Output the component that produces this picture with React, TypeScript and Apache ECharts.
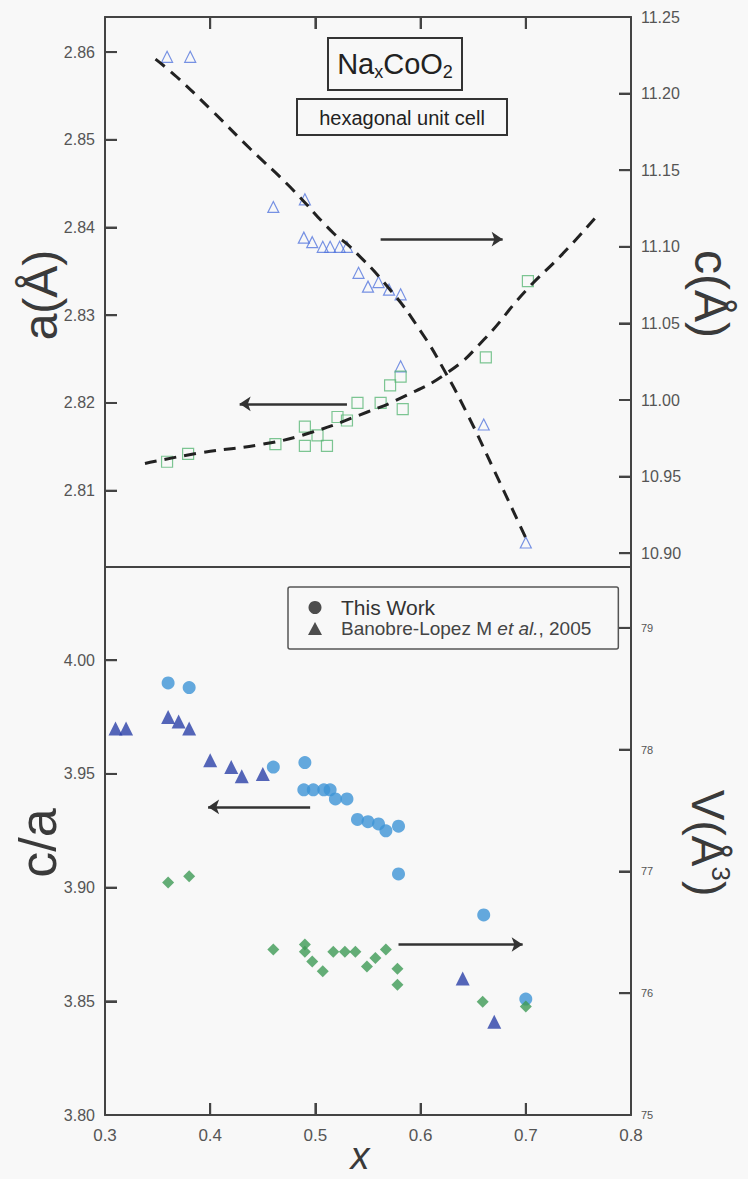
import React, { useEffect, useRef } from "react";
import * as echarts from "echarts";

// ---- Top panel: lattice parameters ----
// c (right axis, open triangles)
const cX = [0.359, 0.381, 0.46, 0.49, 0.489, 0.497, 0.507, 0.514, 0.523, 0.53, 0.541, 0.55, 0.56, 0.57, 0.581, 0.581, 0.66, 0.70];
const cY = [11.224, 11.224, 11.126, 11.131, 11.106, 11.103, 11.1, 11.1, 11.1, 11.1, 11.083, 11.074, 11.077, 11.072, 11.069, 11.022, 10.984, 10.907];
// a (left axis, open squares)
const aX = [0.359, 0.379, 0.462, 0.49, 0.49, 0.502, 0.511, 0.521, 0.53, 0.54, 0.562, 0.571, 0.581, 0.583, 0.662, 0.702];
const aY = [2.8133, 2.8142, 2.8153, 2.8173, 2.8151, 2.8163, 2.8151, 2.8184, 2.818, 2.82, 2.82, 2.822, 2.823, 2.8193, 2.8252, 2.8339];
// dashed guide curves
const aFitX = [0.338, 0.39, 0.45, 0.495, 0.55, 0.58, 0.626, 0.66, 0.7, 0.735, 0.769];
const aFitY = [2.8131, 2.8143, 2.8153, 2.8166, 2.819, 2.8205, 2.8235, 2.8272, 2.8328, 2.837, 2.8415];
const cFitX = [0.348, 0.368, 0.4, 0.438, 0.476, 0.517, 0.533, 0.571, 0.6, 0.622, 0.645, 0.67, 0.702];
const cFitY = [11.2225, 11.211, 11.19, 11.164, 11.139, 11.109, 11.1, 11.072, 11.045, 11.02, 10.99, 10.954, 10.907];

// ---- Bottom panel ----
const thisX = [0.36, 0.38, 0.46, 0.49, 0.489, 0.498, 0.508, 0.514, 0.519, 0.53, 0.54, 0.55, 0.56, 0.567, 0.579, 0.579, 0.66, 0.70];
const thisY = [3.99, 3.988, 3.953, 3.955, 3.943, 3.943, 3.943, 3.943, 3.939, 3.939, 3.93, 3.929, 3.928, 3.925, 3.927, 3.906, 3.888, 3.851];
const banX = [0.31, 0.32, 0.36, 0.37, 0.38, 0.4, 0.42, 0.43, 0.45, 0.64, 0.67];
const banY = [3.97, 3.97, 3.975, 3.973, 3.97, 3.956, 3.953, 3.949, 3.95, 3.86, 3.841];
const volX = [0.36, 0.38, 0.46, 0.49, 0.49, 0.497, 0.507, 0.517, 0.528, 0.538, 0.549, 0.557, 0.567, 0.578, 0.578, 0.659, 0.70];
const volY = [76.91, 76.96, 76.36, 76.4, 76.34, 76.26, 76.18, 76.34, 76.34, 76.34, 76.22, 76.29, 76.36, 76.2, 76.07, 75.93, 75.89];

// axis ranges
const X_MIN = 0.3, X_MAX = 0.8;
const A_MIN = 2.8013, A_MAX = 2.864;
const C_MIN = 10.891, C_MAX = 11.25;
const R_MIN = 3.8, R_MAX = 4.041;
const V_MIN = 75, V_MAX = 79.5;

// tick values
const xTicks = [0.3, 0.4, 0.5, 0.6, 0.7, 0.8];
const xInnerTicks = [0.4, 0.5, 0.6, 0.7];
const aTicks = [2.81, 2.82, 2.83, 2.84, 2.85, 2.86];
const cTicks = [10.9, 10.95, 11.0, 11.05, 11.1, 11.15, 11.2, 11.25];
const cInnerTicks = [10.9, 10.95, 11.0, 11.05, 11.1, 11.15, 11.2];
const ratioTicks = [3.8, 3.85, 3.9, 3.95, 4.0];
const ratioInnerTicks = [3.85, 3.9, 3.95, 4.0];
const vTicks = [75, 76, 77, 78, 79];
const vInnerTicks = [76, 77, 78, 79];

// arrows (data coordinates)
const arrowTopC = [[0.562, 11.105], [0.678, 11.105]];
const arrowTopA = [[0.53, 2.8199], [0.428, 2.8199]];
const arrowBotR = [[0.495, 3.9355], [0.398, 3.9355]];
const arrowBotV = [[0.579, 76.4], [0.697, 76.4]];

const BAN = "Banobre-Lopez M et al., 2005";
const FONT = '"Liberation Sans", Arial, Helvetica, sans-serif';
const AX = "#444";

// layout
const G_LEFT = 105, G_W = 526, G0_TOP = 17, G0_H = 550, G1_TOP = 567, G1_H = 548;
const TICK_PX = 12;

const zip = (xs: number[], ys: number[]) => xs.map((x, i) => [x, ys[i]]);

const arrowML = (pts: number[][]) => ({
  silent: true,
  symbol: ["none", "arrow"],
  symbolSize: 11,
  label: { show: false },
  emphasis: { disabled: true },
  lineStyle: { color: "#333", width: 2.5, type: "solid" },
  data: [[{ coord: pts[0] }, { coord: pts[1] }]],
});

const lineStyleAx = () => ({ show: true, onZero: false, lineStyle: { color: AX, width: 2 } });

const tickStyle = (vals: number[]) => ({
  show: true,
  inside: true,
  length: TICK_PX,
  customValues: vals,
  lineStyle: { color: AX, width: 2 },
});

const yAx = (grid: number, pos: string, min: number, max: number, labels: number[], ticks: number[], dec: number, fs: number) => ({
  type: "value",
  gridIndex: grid,
  position: pos,
  min,
  max,
  axisLine: lineStyleAx(),
  splitLine: { show: false },
  axisTick: tickStyle(ticks),
  axisLabel: {
    show: true,
    customValues: labels,
    margin: 10,
    fontSize: fs,
    color: "#555",
    fontFamily: FONT,
    formatter: (v: number) => v.toFixed(dec),
  },
});

const frameX = (grid: number, pos: string) => ({
  type: "value", gridIndex: grid, position: pos, min: X_MIN, max: X_MAX,
  axisLine: lineStyleAx(), splitLine: { show: false }, axisTick: { show: false }, axisLabel: { show: false },
});

const baseGraphic: any[] = [
  { type: "rect", shape: { x: 328, y: 38, width: 134, height: 52 }, style: { fill: "none", stroke: "#333", lineWidth: 2 } },
  {
    type: "text", x: 395, y: 64,
    style: {
      text: "{n|Na}{s|x}{n|CoO}{s|2}",
      align: "center", verticalAlign: "middle",
      rich: {
        n: { fontSize: 29, lineHeight: 34, fontFamily: FONT, fill: "#222" },
        s: { fontSize: 18, lineHeight: 14, verticalAlign: "bottom", fontFamily: FONT, fill: "#222", fontStyle: "normal" },
      },
    },
  },
  { type: "rect", shape: { x: 297, y: 99, width: 210, height: 36 }, style: { fill: "none", stroke: "#333", lineWidth: 2 } },
  {
    type: "text", x: 402, y: 118,
    style: { text: "hexagonal unit cell", fontSize: 20, fontFamily: FONT, fill: "#222", align: "center", verticalAlign: "middle" },
  },
  {
    type: "text", x: 40, y: 295, rotation: Math.PI / 2,
    style: { text: "a(Å)", fontSize: 48, fontFamily: FONT, fill: "#3a3a3a", align: "center", verticalAlign: "middle" },
  },
  {
    type: "text", x: 711, y: 294, rotation: -Math.PI / 2,
    style: { text: "c(Å)", fontSize: 48, fontFamily: FONT, fill: "#3a3a3a", align: "center", verticalAlign: "middle" },
  },
  {
    type: "text", x: 38, y: 843, rotation: Math.PI / 2,
    style: { text: "c/a", fontSize: 52, fontFamily: FONT, fill: "#3a3a3a", align: "center", verticalAlign: "middle" },
  },
  {
    type: "text", x: 708, y: 843, rotation: -Math.PI / 2,
    style: {
      text: "{n|V(Å}{s|3}{n|)}",
      align: "center", verticalAlign: "middle",
      rich: {
        n: { fontSize: 46, lineHeight: 52, fontFamily: FONT, fill: "#3a3a3a" },
        s: { fontSize: 26, lineHeight: 26, verticalAlign: "top", fontFamily: FONT, fill: "#3a3a3a" },
      },
    },
  },
  {
    type: "text", x: 360, y: 1156,
    style: { text: "x", fontSize: 38, fontStyle: "italic", fontFamily: FONT, fill: "#3a3a3a", align: "center", verticalAlign: "middle" },
  },
];

export default function App() {
  const ref = useRef<HTMLDivElement>(null);
  useEffect(() => {
    document.body.style.margin = "0";
    const chart = echarts.init(ref.current!, undefined, { renderer: "svg" });
    const option: any = {
      animation: false,
      backgroundColor: "#f8f8f8",
      grid: [
        { left: G_LEFT, width: G_W, top: G0_TOP, height: G0_H },
        { left: G_LEFT, width: G_W, top: G1_TOP, height: G1_H },
      ],
      xAxis: [
        {
          type: "value", gridIndex: 0, position: "top", min: X_MIN, max: X_MAX,
          axisLine: lineStyleAx(), splitLine: { show: false },
          axisLabel: { show: false },
          axisTick: tickStyle(xInnerTicks),
        },
        {
          type: "value", gridIndex: 1, position: "bottom", min: X_MIN, max: X_MAX,
          axisLine: lineStyleAx(), splitLine: { show: false },
          axisTick: tickStyle(xInnerTicks),
          axisLabel: { show: true, customValues: xTicks, margin: 12, fontSize: 17, color: "#555", fontFamily: FONT, formatter: (v: number) => v.toFixed(1) },
        },
        frameX(0, "bottom"),
        frameX(1, "top"),
      ],
      yAxis: [
        yAx(0, "left", A_MIN, A_MAX, aTicks, aTicks, 2, 16),
        yAx(0, "right", C_MIN, C_MAX, cTicks, cInnerTicks, 2, 16),
        yAx(1, "left", R_MIN, R_MAX, ratioTicks, ratioInnerTicks, 2, 16),
        yAx(1, "right", V_MIN, V_MAX, vTicks, vInnerTicks, 0, 11),
      ],
      legend: {
        orient: "vertical",
        left: 288,
        top: 587,
        padding: [10, 27, 11, 20],
        itemWidth: 14,
        itemHeight: 13,
        itemGap: 1,
        borderColor: "#555",
        borderWidth: 1.5,
        borderRadius: 2,
        backgroundColor: "#f8f8f8",
        selectedMode: false,
        data: [
          { name: "This Work", icon: "circle", itemStyle: { color: "#222" } },
          { name: BAN, icon: "triangle", itemStyle: { color: "#222" } },
        ],
        formatter: (n: string) => (n === BAN ? "{r0|Banobre-Lopez M }{i|et al.}{r|, 2005}" : "{t|This Work}"),
        textStyle: {
          fontFamily: FONT,
          color: "#333",
          rich: {
            t: { fontSize: 21, lineHeight: 20, fontFamily: FONT, color: "#333", padding: [0, 0, 0, 14] },
            r0: { fontSize: 19, lineHeight: 20, fontFamily: FONT, color: "#444", padding: [0, 0, 0, 14] },
            r: { fontSize: 19, lineHeight: 20, fontFamily: FONT, color: "#444" },
            i: { fontSize: 19, lineHeight: 20, fontStyle: "italic", fontFamily: FONT, color: "#444" },
          },
        },
      },
      series: [
        {
          type: "line", name: "aFit", xAxisIndex: 0, yAxisIndex: 0, data: zip(aFitX, aFitY), smooth: true,
          symbol: "none", silent: true, lineStyle: { type: [12, 8], width: 3, color: "#222" }, z: 3,
        },
        {
          type: "line", name: "cFit", xAxisIndex: 0, yAxisIndex: 1, data: zip(cFitX, cFitY), smooth: true,
          symbol: "none", silent: true, lineStyle: { type: [12, 8], width: 3, color: "#222" }, z: 3,
        },
        {
          type: "scatter", name: "c", xAxisIndex: 0, yAxisIndex: 1, data: zip(cX, cY),
          symbol: "triangle", symbolSize: 11,
          itemStyle: { color: "rgba(0,0,0,0)", borderColor: "#5577dd", borderWidth: 1.2 },
          markLine: arrowML(arrowTopC),
        },
        {
          type: "scatter", name: "a", xAxisIndex: 0, yAxisIndex: 0, data: zip(aX, aY),
          symbol: "rect", symbolSize: 11,
          itemStyle: { color: "rgba(0,0,0,0)", borderColor: "#5cb878", borderWidth: 1.2 },
          markLine: arrowML(arrowTopA),
        },
        {
          type: "scatter", name: "This Work", xAxisIndex: 1, yAxisIndex: 2, data: zip(thisX, thisY),
          symbol: "circle", symbolSize: 13, itemStyle: { color: "#3d93d6" },
          markLine: arrowML(arrowBotR),
        },
        {
          type: "scatter", name: BAN, xAxisIndex: 1, yAxisIndex: 2, data: zip(banX, banY),
          symbol: "triangle", symbolSize: 14, itemStyle: { color: "#2a40a8" },
        },
        {
          type: "scatter", name: "V", xAxisIndex: 1, yAxisIndex: 3, data: zip(volX, volY),
          symbol: "diamond", symbolSize: 12, itemStyle: { color: "#3d9a55" },
          markLine: arrowML(arrowBotV),
        },
      ],
      graphic: baseGraphic,
    };
    chart.setOption(option);

    // tick marks: positions converted through the chart's own axes
    try {
      const tickLines: any[] = [];
      const seg = (x1: number, y1: number, x2: number, y2: number) => {
        if ([x1, y1, x2, y2].every((v) => isFinite(v))) {
          tickLines.push({ type: "line", z: 100, silent: true, shape: { x1, y1, x2, y2 }, style: { stroke: AX, lineWidth: 2 } });
        }
      };
      const toPx = (xi: number, yi: number, v: number[]) =>
        (chart.convertToPixel({ xAxisIndex: xi, yAxisIndex: yi } as any, v) as any) as number[];
      aTicks.forEach((t) => { const p = toPx(0, 0, [X_MIN, t]); if (p) seg(p[0], p[1], p[0] + TICK_PX, p[1]); });
      cInnerTicks.forEach((t) => { const p = toPx(0, 1, [X_MAX, t]); if (p) seg(p[0] - TICK_PX, p[1], p[0], p[1]); });
      xInnerTicks.forEach((t) => { const p = toPx(0, 0, [t, A_MAX]); if (p) seg(p[0], p[1], p[0], p[1] + TICK_PX); });
      ratioInnerTicks.forEach((t) => { const p = toPx(1, 2, [X_MIN, t]); if (p) seg(p[0], p[1], p[0] + TICK_PX, p[1]); });
      vInnerTicks.forEach((t) => { const p = toPx(1, 3, [X_MAX, t]); if (p) seg(p[0] - TICK_PX, p[1], p[0], p[1]); });
      xInnerTicks.forEach((t) => { const p = toPx(1, 2, [t, R_MIN]); if (p) seg(p[0], p[1], p[0], p[1] - TICK_PX); });
      chart.setOption({ graphic: [...baseGraphic, ...tickLines] });
    } catch (e) {
      // keep chart without extra ticks
    }
    return () => chart.dispose();
  }, []);
  return <div ref={ref} style={{ width: 748, height: 1179 }} />;
}
